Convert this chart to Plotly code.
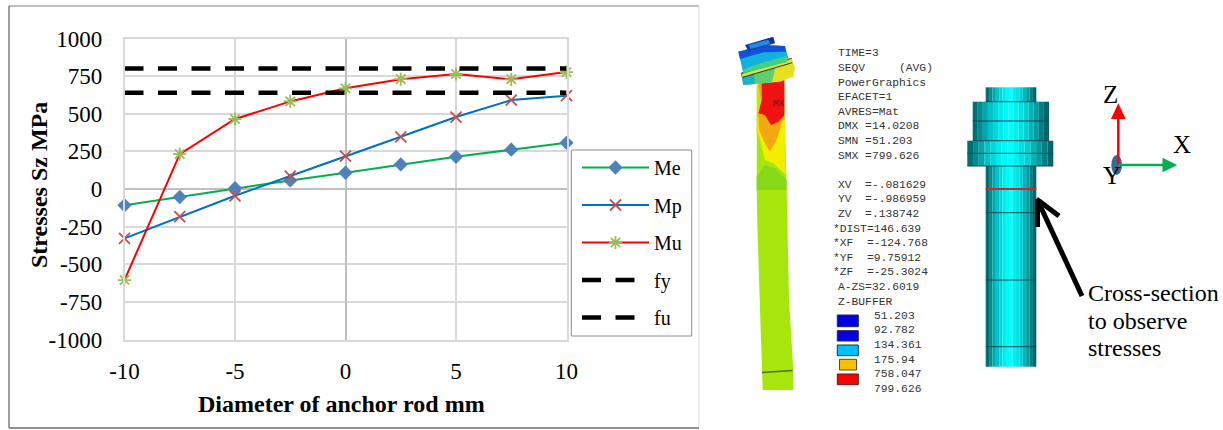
import plotly.graph_objects as go

W, H = 1223, 430

# ---- chart data ----
diameter = [-10, -7.5, -5, -2.5, 0, 2.5, 5, 7.5, 10]
me = [-108, -53, 5, 57, 108, 163, 214, 261, 307]
mp = [-328, -184, -45, 86, 219, 347, 478, 591, 620]
mu = [-605, 232, 465, 582, 669, 730, 764, 729, 777]
fy = [800] * 9
fu = [640] * 9
x_ticks = [-10, -5, 0, 5, 10]
x_labels = ["-10", "-5", "0", "5", "10"]
y_ticks = [-1000, -750, -500, -250, 0, 250, 500, 750, 1000]
y_labels = ["-1000", "-750", "-500", "-250", "0", "250", "500", "750", "1000"]

ansys_lines = [
    "TIME=3", "SEQV     (AVG)", "PowerGraphics", "EFACET=1", "AVRES=Mat",
    "DMX =14.0208", "SMN =51.203", "SMX =799.626", "",
    "XV  =-.081629", "YV  =-.986959", "ZV  =.138742",
    "*DIST=146.639", "*XF  =-124.768", "*YF  =9.75912", "*ZF  =-25.3024",
    " A-ZS=32.6019", " Z-BUFFER",
]
ansys_levels = ["51.203", "92.782", "134.361", "175.94", "758.047", "799.626"]
cross_section_text = ["Cross-section", "to observe", "stresses"]

SERIF = "Liberation Serif"
MONO = "Liberation Mono"


def px(x):
    return x / W


def py(y):
    return 1 - y / H


fig = go.Figure()
fig.add_trace(go.Scatter(x=diameter, y=me, name="Me", mode="lines+markers", legendgroup="a",
                         line=dict(color="#00B050", width=2),
                         marker=dict(symbol="diamond", size=11, color="#4F81BD")))
fig.add_trace(go.Scatter(x=diameter, y=mp, name="Mp", mode="lines+markers", legendgroup="b",
                         line=dict(color="#0070C0", width=2),
                         marker=dict(symbol="x-thin-open", size=11, color="#C0504D",
                                     line=dict(color="#C0504D", width=1.8))))
fig.add_trace(go.Scatter(x=diameter, y=mu, name="Mu", mode="lines+markers", legendgroup="c",
                         line=dict(color="#FF0000", width=2),
                         marker=dict(symbol="asterisk-open", size=11, color="#9BBB59",
                                     line=dict(color="#9BBB59", width=1.8))))
fig.add_trace(go.Scatter(x=diameter, y=fy, name="fy", mode="lines", legendgroup="d",
                         line=dict(color="black", width=4.5, dash="19px,14.5px")))
fig.add_trace(go.Scatter(x=diameter, y=fu, name="fu", mode="lines", legendgroup="e",
                         line=dict(color="black", width=4.5, dash="19px,14.5px")))
fig.update_traces(cliponaxis=False)

shapes = []
ann = []


def rect(x0, y0, x1, y1, fill, line=None, lw=0):
    shapes.append(dict(type="rect", xref="paper", yref="paper", x0=px(x0), x1=px(x1), y0=py(y0), y1=py(y1),
                       fillcolor=fill, line=dict(color=line or fill, width=lw)))


def line(x0, y0, x1, y1, color, lw):
    shapes.append(dict(type="line", xref="paper", yref="paper", x0=px(x0), x1=px(x1), y0=py(y0), y1=py(y1),
                       line=dict(color=color, width=lw)))


def poly(points, fill):
    d = "M" + " L".join(f"{px(a):.5f},{py(b):.5f}" for a, b in points) + " Z"
    shapes.append(dict(type="path", xref="paper", yref="paper", path=d, fillcolor=fill,
                       line=dict(width=0)))


def text(x, y, s, size, font=SERIF, color="black", anchor="left", angle=0):
    ann.append(dict(xref="paper", yref="paper", x=px(x), y=py(y), text=s, showarrow=False,
                    xanchor=anchor, yanchor="middle", borderpad=0, textangle=angle,
                    font=dict(family=font, size=size, color=color)))


# chart frame
line(9, 6, 699, 6, "#7F7F7F", 1)
line(699, 6, 699, 428, "#D9D9D9", 1)
line(9, 428, 699, 428, "#262626", 1)
line(9, 6, 9, 428, "#7F7F7F", 1.5)

# legend box sits under the real legend
rect(571.3, 150, 691.7, 336, "white", "#8C8C8C", 1)

# axis titles
text(341.5, 404, "<b>Diameter of anchor rod mm</b>", 24, anchor="center")
text(39, 185, "<b>Stresses Sz MPa</b>", 24, anchor="center", angle=-90)


# deformed rod, coordinates measured on two crops of the picture
def zr(pts):
    return [(745 + a / 3, 80 + b / 3) for a, b in pts]


def zc(pts):
    return [(730 + a / 3, 35 + b / 3) for a, b in pts]


poly([(757, 85), (784, 85), (786.7, 190), (789, 300), (793.3, 370), (793.3, 390), (762.7, 390), (761, 340), (757.5, 230), (756.7, 190)],
     "#A6E60C")
poly(zr([(35, 20), (60, 20), (60, 170), (35, 170)]), "#CCE400")
poly(zr([(35, 330), (35, 290), (60, 255), (90, 265), (125, 300), (125, 330)]), "#86D818")
poly(zr([(38, 150), (60, 240), (85, 250), (122, 285), (120, 120), (38, 110)]), "#F2EE00")
poly(zr([(38, 5), (60, 5), (118, 5), (118, 105), (110, 130), (95, 180), (75, 215), (60, 190), (42, 150), (40, 100), (50, 70)]), "#F4A810")
poly(zr([(50, 0), (118, 0), (118, 105), (100, 125), (78, 135), (60, 105), (40, 100), (50, 60)]), "#EE1212")
text(778, 104, "MX", 9, MONO, "#7A1010", "center")
line(762, 372.5, 792.5, 370.5, "#4B6B00", 1.5)
# third flange
poly(zc([(33, 115), (100, 92), (185, 70), (195, 100), (190, 125), (150, 140), (40, 150)]), "#E6E020")
poly(zc([(33, 115), (100, 92), (140, 82), (125, 143), (40, 150)]), "#5CCF70")
poly(zc([(33, 115), (70, 103), (75, 147), (40, 150)]), "#1CB4C4")
poly(zc([(36, 118), (100, 96), (185, 72), (186, 82), (100, 108), (38, 126)]), "#E0E030")
(a0, b0), (a1, b1), (a2, b2), (a3, b3) = zc([(33, 115), (185, 70), (38, 127), (187, 83)])
line(a0, b0, a1, b1, "#1C3A3A", 1)
line(a2, b2, a3, b3, "#1C3A3A", 1)
# second tier
poly(zc([(25, 50), (100, 30), (165, 33), (175, 70), (170, 80), (40, 115)]), "#12B0DC")
poly(zc([(25, 50), (100, 30), (165, 33), (168, 50), (100, 52), (30, 72)]), "#1250D8")
poly(zc([(80, 88), (172, 62), (172, 80), (40, 115), (38, 104)]), "#40D088")
# top block
poly(zc([(45, 30), (130, 5), (135, 25), (55, 47)]), "#0A2FA8")
poly(zc([(55, 30), (115, 14), (120, 27), (62, 42)]), "#1E8CE0")

# ANSYS text block
for i, s in enumerate(ansys_lines):
    if s:
        x0 = 831.7 if s.startswith("*") else 837.3
        text(x0, 53.3 + i * 14.6, s.strip().replace(" ", "\u00a0"), 11.3, MONO, "#333333")
for i, s in enumerate(ansys_levels):
    text(872.7, 315.7 + i * 14.6, s, 11.3, MONO, "#333333")
rect(837.3, 315, 858.3, 326.7, "#0000E0", "#222266", 1)
rect(837.3, 330.7, 858.3, 341, "#0000E0", "#222266", 1)
rect(837.3, 345, 858.3, 355.7, "#00BFFF", "#12384A", 1)
rect(839.5, 359.3, 856.5, 370, "#FFC000", "#5A4A1A", 1)
rect(837.3, 374, 858.3, 384.7, "#FF0000", "#5A1A1A", 1)


# meshed rod
def striped(x0, y0, x1, y1):
    shades = ["#006F74", "#008C90", "#00A8AC", "#00C4C8", "#00D8DC", "#00ECEC", "#00F8F8", "#00FFFF",
              "#00F0F0", "#00E0E4", "#00D0D4", "#00B8BC", "#009CA0", "#007F84", "#00666C"]
    n = len(shades)
    for k, c in enumerate(shades):
        rect(x0 + (x1 - x0) * k / n, y0, x0 + (x1 - x0) * (k + 1) / n, y1, c)


striped(967.3, 140.7, 1053.3, 166)
striped(972.7, 101.7, 1049, 140.7)
striped(985.7, 87.3, 1036.3, 101.7)
striped(985.7, 166, 1036.3, 366.7)
for a, b, yy in [(972.7, 1049, 121), (967.3, 1053.3, 153.3), (985.7, 1036.3, 212.7),
                 (985.7, 1036.3, 280), (985.7, 1036.3, 346.7), (972.7, 1049, 140.7),
                 (985.7, 1036.3, 101.7), (967.3, 1053.3, 166)]:
    line(a, yy, b, yy, "#0A4A4E", 1)
line(985.7, 189, 1036.3, 189, "#E02020", 2)

# arrow
line(1082, 296, 1037.5, 200, "black", 5)
line(1037.5, 199, 1037.5, 227, "black", 5)
line(1036.5, 199, 1059, 216, "black", 5)
for i, s in enumerate(cross_section_text):
    text(1086.7, [292.7, 320.7, 348][i], s, 24)

# coordinate triad
shapes.append(dict(type="circle", xref="paper", yref="paper", x0=px(1111.3), x1=px(1122), y0=py(155), y1=py(175),
                   fillcolor="#3F6496", line=dict(width=0)))
line(1118.3, 165, 1118.3, 118, "#FF0000", 2.5)
poly([(1111, 119), (1125.7, 119), (1118.3, 103.3)], "#FF0000")
line(1118.3, 165, 1164, 165, "#00B050", 2.5)
poly([(1162.5, 157.7), (1162.5, 172.3), (1177.3, 165)], "#00B050")
text(1110, 95, "Z", 25, anchor="center")
text(1181.7, 145, "X", 25, anchor="center")
text(1111.7, 175, "Y", 25, anchor="center")

axis_common = dict(showgrid=True, gridcolor="#D9D9D9", gridwidth=1.5, showline=True, mirror=True,
                   linecolor="#D9D9D9", linewidth=1.5, zeroline=True, zerolinecolor="#BFBFBF", zerolinewidth=1.5,
                   ticks="outside", tickcolor="rgba(0,0,0,0)", tickfont=dict(family=SERIF, size=23, color="black"))

fig.update_layout(
    width=W, height=H, margin=dict(l=0, r=0, t=0, b=0, autoexpand=False), paper_bgcolor="white", plot_bgcolor="white",
    xaxis=dict(domain=[px(124.5), px(566.5)], range=[-10, 10], tickvals=x_ticks, ticktext=x_labels, ticklen=10, **axis_common),
    yaxis=dict(domain=[py(339.5), py(38.5)], range=[-1000, 1000], tickvals=y_ticks, ticktext=y_labels, ticklen=16, **axis_common),
    legend=dict(x=px(577), y=py(148), xanchor="left", yanchor="top", bgcolor="rgba(0,0,0,0)",
                borderwidth=0, itemwidth=67, tracegroupgap=8.5,
                font=dict(family=SERIF, size=20, color="black"), itemclick=False, itemdoubleclick=False),
    shapes=shapes, annotations=ann, hovermode=False,
)

fig.write_html("out.html", config=dict(displayModeBar=False), post_script="document.body.style.margin='0';")
